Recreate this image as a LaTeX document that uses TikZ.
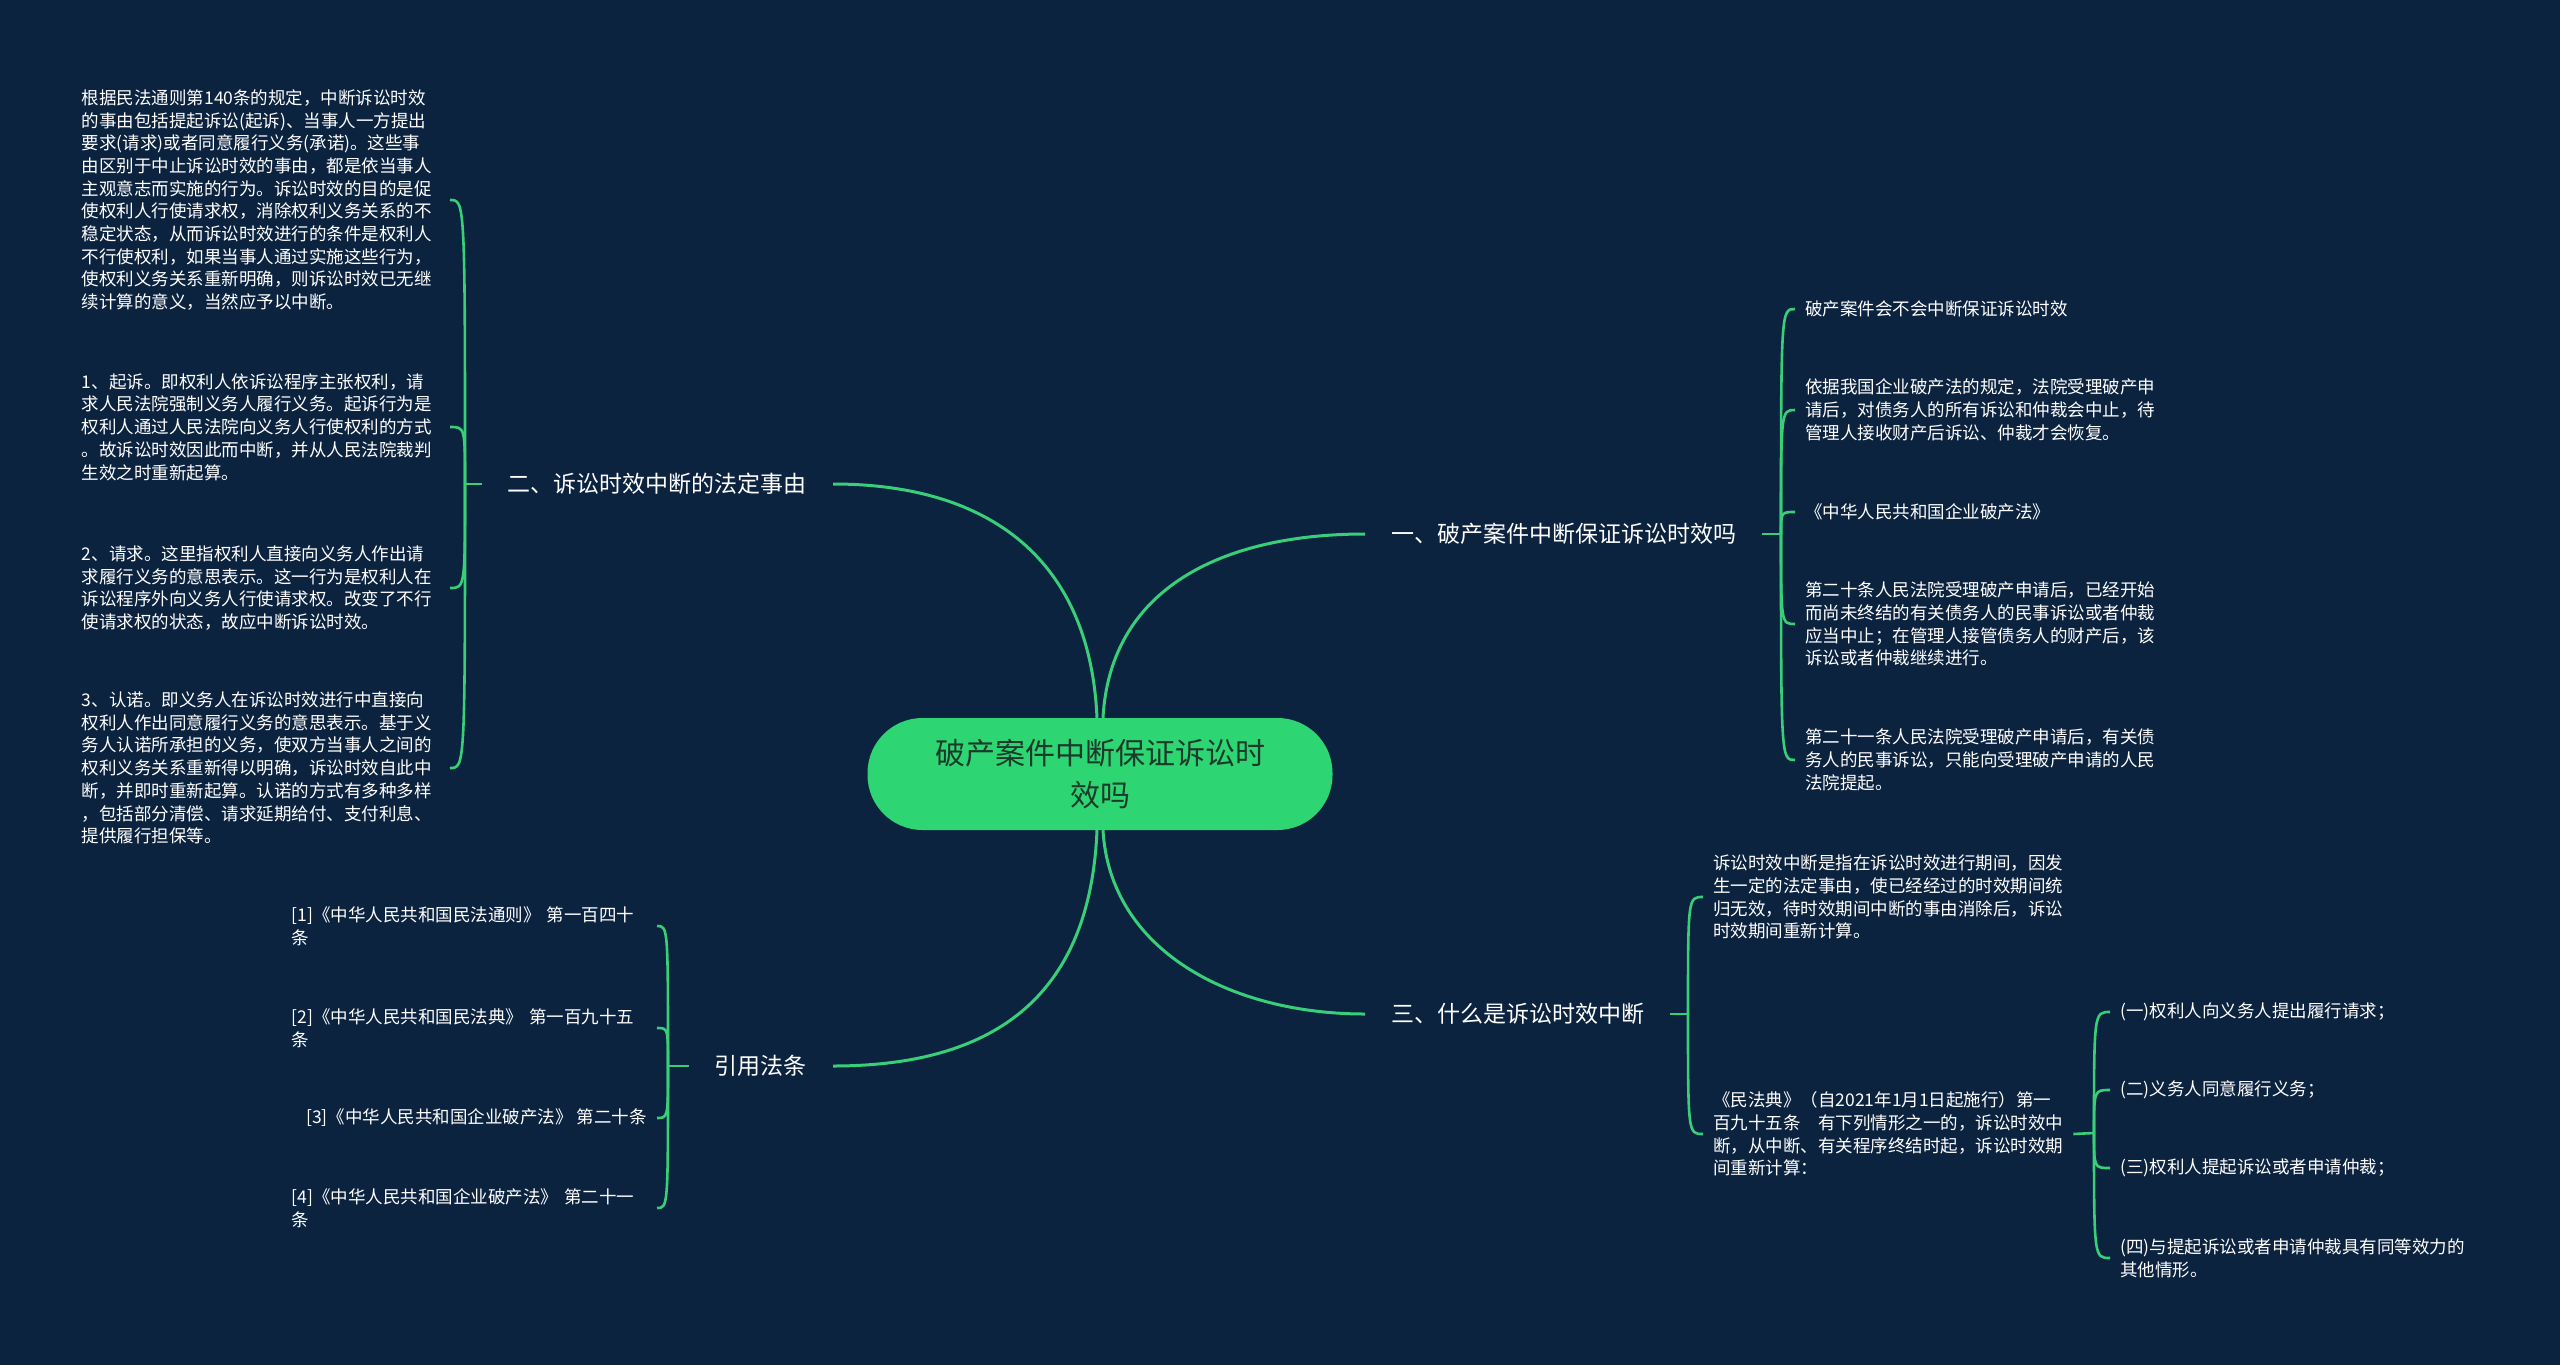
\documentclass[tikz,border=0pt]{standalone}
\usepackage{fontspec}
\setmainfont{Noto Sans CJK SC}
\usepackage{tikz}
\usetikzlibrary{calc}
\definecolor{bgnavy}{HTML}{0C2340}
\definecolor{linegreen}{HTML}{39CE78}
\definecolor{topicgreen}{HTML}{2ED573}
\definecolor{topictext}{HTML}{1B3A2A}
\tikzset{
    mytopic/.style={fill=topicgreen,rounded corners=55pt,minimum width=465pt,minimum height=112pt,align=center,text=topictext,font=\fontsize{30}{42}\selectfont},
    mybranch/.style={text=white,inner xsep=26pt,inner ysep=0pt,font=\fontsize{23}{28}\selectfont},
    myleaf/.style={text=white,inner xsep=10pt,inner ysep=0pt,align=left,font=\fontsize{17.5}{22.7}\selectfont},
    mymain/.style={draw=linegreen,line width=3pt},
    myedge/.style={draw=linegreen,line width=2.6pt}
}

\begin{document}
\begin{tikzpicture}[x=1pt,y=-1pt]
  \fill[bgnavy] (0,0) rectangle (2560,1365);
  \useasboundingbox (0,0) rectangle (2560,1365);
  % centre and the four branches
  \node[mytopic] (hub) at (1100,774) {破产案件中断保证诉讼时\\效吗};
  \node[mybranch,anchor=west] (b1) at (1365,534) {一、破产案件中断保证诉讼时效吗};
  \node[mybranch,anchor=east] (b2) at (833,484) {二、诉讼时效中断的法定事由};
  \node[mybranch,anchor=west] (b3) at (1365,1014) {三、什么是诉讼时效中断};
  \node[mybranch,anchor=east] (b4) at (833,1066) {引用法条};
  \draw[mymain] ([xshift=3pt]hub.north) .. controls +(7,-128) and +(-145,0) .. (b1.west);
  \draw[mymain] ([xshift=-3pt]hub.north) .. controls +(-7,-158) and +(157,0) .. (b2.east);
  \draw[mymain] ([xshift=3pt]hub.south) .. controls +(7,120) and +(-135,0) .. (b3.west);
  \draw[mymain] ([xshift=-3pt]hub.south) .. controls +(-7,170) and +(157,0) .. (b4.east);

  % branch one
  \node[myleaf,anchor=west] (c11) at (1795,309) {破产案件会不会中断保证诉讼时效};
  \node[myleaf,anchor=west] (c12) at (1795,410) {依据我国企业破产法的规定，法院受理破产申\\请后，对债务人的所有诉讼和仲裁会中止，待\\管理人接收财产后诉讼、仲裁才会恢复。};
  \node[myleaf,anchor=west] (c13) at (1795,512) {《中华人民共和国企业破产法》};
  \node[myleaf,anchor=west] (c14) at (1795,624) {第二十条人民法院受理破产申请后，已经开始\\而尚未终结的有关债务人的民事诉讼或者仲裁\\应当中止；在管理人接管债务人的财产后，该\\诉讼或者仲裁继续进行。};
  \node[myleaf,anchor=west] (c15) at (1795,760) {第二十一条人民法院受理破产申请后，有关债\\务人的民事诉讼，只能向受理破产申请的人民\\法院提起。};
  \coordinate (j1) at (1781,534);
  \draw[myedge] (b1.east) -- (j1);
  \foreach \c in {c11,c12,c13,c14,c15}
    \draw[myedge] (j1) .. controls (j1 |- \c.west) and (j1 |- \c.west) .. (\c.west);

  % branch two
  \node[myleaf,anchor=east,text width=358pt] (c21) at (450,200) {根据民法通则第140条的规定，中断诉讼时效\\的事由包括提起诉讼(起诉)、当事人一方提出\\要求(请求)或者同意履行义务(承诺)。这些事\\由区别于中止诉讼时效的事由，都是依当事人\\主观意志而实施的行为。诉讼时效的目的是促\\使权利人行使请求权，消除权利义务关系的不\\稳定状态，从而诉讼时效进行的条件是权利人\\不行使权利，如果当事人通过实施这些行为，\\使权利义务关系重新明确，则诉讼时效已无继\\续计算的意义，当然应予以中断。};
  \node[myleaf,anchor=east,text width=358pt] (c22) at (450,427) {1、起诉。即权利人依诉讼程序主张权利，请\\求人民法院强制义务人履行义务。起诉行为是\\权利人通过人民法院向义务人行使权利的方式\\。故诉讼时效因此而中断，并从人民法院裁判\\生效之时重新起算。};
  \node[myleaf,anchor=east,text width=358pt] (c23) at (450,588) {2、请求。这里指权利人直接向义务人作出请\\求履行义务的意思表示。这一行为是权利人在\\诉讼程序外向义务人行使请求权。改变了不行\\使请求权的状态，故应中断诉讼时效。};
  \node[myleaf,anchor=east,text width=358pt] (c24) at (450,768) {3、认诺。即义务人在诉讼时效进行中直接向\\权利人作出同意履行义务的意思表示。基于义\\务人认诺所承担的义务，使双方当事人之间的\\权利义务关系重新得以明确，诉讼时效自此中\\断，并即时重新起算。认诺的方式有多种多样\\，包括部分清偿、请求延期给付、支付利息、\\提供履行担保等。};
  \coordinate (j2) at (465,484);
  \draw[myedge] (b2.west) -- (j2);
  \foreach \c in {c21,c22,c23,c24}
    \draw[myedge] (j2) .. controls (j2 |- \c.east) and (j2 |- \c.east) .. (\c.east);

  % branch three
  \node[myleaf,anchor=west] (c31) at (1703,897) {诉讼时效中断是指在诉讼时效进行期间，因发\\生一定的法定事由，使已经经过的时效期间统\\归无效，待时效期间中断的事由消除后，诉讼\\时效期间重新计算。};
  \node[myleaf,anchor=west] (c32) at (1703,1134) {《民法典》（自2021年1月1日起施行）第一\\百九十五条　有下列情形之一的，诉讼时效中\\断，从中断、有关程序终结时起，诉讼时效期\\间重新计算：};
  \coordinate (j3) at (1688,1014);
  \draw[myedge] (b3.east) -- (j3);
  \foreach \c in {c31,c32}
    \draw[myedge] (j3) .. controls (j3 |- \c.west) and (j3 |- \c.west) .. (\c.west);

  \node[myleaf,anchor=west] (d1) at (2110,1012) {(一)权利人向义务人提出履行请求；};
  \node[myleaf,anchor=west] (d2) at (2110,1090) {(二)义务人同意履行义务；};
  \node[myleaf,anchor=west] (d3) at (2110,1168) {(三)权利人提起诉讼或者申请仲裁；};
  \node[myleaf,anchor=west] (d4) at (2110,1258) {(四)与提起诉讼或者申请仲裁具有同等效力的\\其他情形。};
  \coordinate (j5) at (2094,1133);
  \draw[myedge] (c32.east) -- (j5);
  \foreach \c in {d1,d2,d3,d4}
    \draw[myedge] (j5) .. controls (j5 |- \c.west) and (j5 |- \c.west) .. (\c.west);

  % branch four
  \node[myleaf,anchor=east,text width=355pt] (c41) at (657,926) {[1]《中华人民共和国民法通则》 第一百四十\\条};
  \node[myleaf,anchor=east,text width=355pt] (c42) at (657,1028) {[2]《中华人民共和国民法典》 第一百九十五\\条};
  \node[myleaf,anchor=east] (c43) at (657,1118) {[3]《中华人民共和国企业破产法》 第二十条};
  \node[myleaf,anchor=east,text width=355pt] (c44) at (657,1208) {[4]《中华人民共和国企业破产法》 第二十一\\条};
  \coordinate (j4) at (668,1066);
  \draw[myedge] (b4.west) -- (j4);
  \foreach \c in {c41,c42,c43,c44}
    \draw[myedge] (j4) .. controls (j4 |- \c.east) and (j4 |- \c.east) .. (\c.east);
\end{tikzpicture}
\end{document}
